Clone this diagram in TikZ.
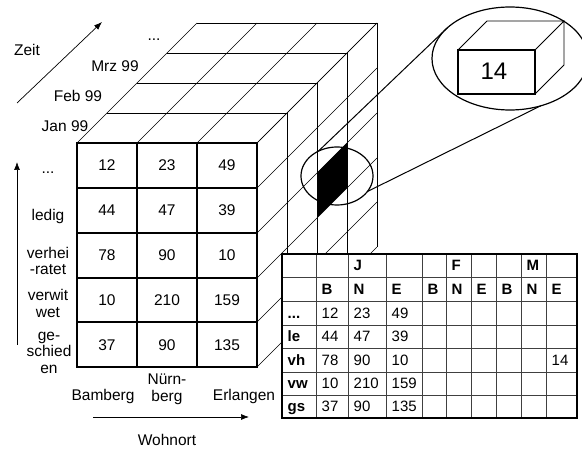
\documentclass[tikz,border=0pt]{standalone}
\usepackage{fontspec}
\setmainfont{Liberation Sans}
\usetikzlibrary{arrows.meta,shapes.geometric}
\newcommand\mydots{...}
\begin{document}
\begin{tikzpicture}[x=1pt,y=-1pt,
  lbl/.style={font=\fontsize{15.5}{16.5}\selectfont, inner sep=0pt, align=center},
  num/.style={font=\fontsize{15.5}{16}\selectfont, inner sep=0pt},
  tcell/.style={font=\fontsize{15}{16}\selectfont, inner sep=0pt, anchor=base west},
  thd/.style={tcell, font=\fontsize{15}{16}\selectfont\bfseries},
  frontln/.style={line width=1.2pt},
  slice/.style={line width=0.9pt},
  depthln/.style={line width=0.6pt},
  axis/.style={line width=0.7pt, -{Latex[length=8pt,width=6pt]}},
  lens/.style={ellipse, draw, line width=1.2pt, inner sep=0pt, outer sep=0pt},
  grid/.style={line width=0.6pt, draw=black!75},
  ]
\useasboundingbox (0,0) rectangle (582,449);

% ---- cube: top face
\foreach \k in {1,2,3,4}
  \draw[slice] (77+30*\k,143-30*\k) -- (257+30*\k,143-30*\k);
\foreach \x in {77,137,197,257}
  \draw[depthln] (\x,143) -- (\x+120,23);
% ---- cube: right face
\foreach \k in {1,2,3,4}
  \draw[slice] (257+30*\k,143-30*\k) -- (257+30*\k,367-30*\k);
\foreach \y in {143,188,233,278,322,367}
  \draw[depthln] (257,\y) -- (377,\y-120);
% highlighted cell
\fill (317,173) -- (347,143) -- (347,188) -- (317,218) -- cycle;
% ---- cube: front face
\draw[frontln] (77,143) rectangle (257,367);
\foreach \x in {137,197} \draw[frontln] (\x,143) -- (\x,367);
\foreach \y in {188,233,278,322} \draw[frontln] (77,\y) -- (257,\y);
\foreach \r/\a/\b/\c in {0/12/23/49,1/44/47/39,2/78/90/10,3/10/210/159,4/37/90/135}{
  \node[num] (fa\r) at (107,165.5+44.8*\r) {\a};
  \node[num] (fb\r) at (167,165.5+44.8*\r) {\b};
  \node[num] (fc\r) at (227,165.5+44.8*\r) {\c};
}

% ---- time axis
\node[lbl] (zeit) at (27,50) {Zeit};
\coordinate (t0) at (17,103);
\coordinate (t1) at (102,22);
\draw[axis] (t0) -- (t1);
\node[lbl, anchor=base] (tdots) at (154,41) {\mydots};
\node[lbl, anchor=base] (mrz) at (115,72) {Mrz 99};
\node[lbl, anchor=base] (feb) at (78,102) {Feb 99};
\node[lbl, anchor=base] (jan) at (65,132) {Jan 99};

% ---- family status axis
\coordinate (s0) at (17,345);
\coordinate (s1) at (17,162);
\draw[axis] (s0) -- (s1);
\node[lbl] (sdots) at (48,173) {\mydots};
\node[lbl] (ledig) at (48,216) {ledig};
\node[lbl] (verh) at (48,261) {verhei\\-ratet};
\node[lbl] (verw) at (48,303.5) {verwit\\wet};
\node[lbl] (gesch) at (49,352.5) {ge-\\schied\\en};

% ---- place axis
\node[lbl] (bamb) at (103,396) {Bamberg};
\node[lbl] (nuer) at (167,389.5) {Nürn-\\berg};
\node[lbl] (erl) at (244,396) {Erlangen};
\coordinate (w0) at (93,417);
\coordinate (w1) at (249,417);
\draw[axis] (w0) -- (w1);
\node[lbl] (wohn) at (167,440) {Wohnort};

% ---- magnifier
\node[lens, minimum width=72pt, minimum height=58pt] (sm) at (337,176) {};
\node[lens, minimum width=156pt, minimum height=103pt] (bg) at (510,58.5) {};
\draw[line width=1pt] (sm.127) -- (bg.154);
\draw[line width=1pt] (sm.-27) -- (bg.-57);
\draw[line width=0.8pt] (458,50) -- (487,21) -- (564,21) -- (535,50)
  (564,21) -- (564,65) -- (535,94);
\draw[line width=1.1pt] (458,50) rectangle (535,94);
\node[font=\fontsize{24}{26}\selectfont, inner sep=0pt] (fourteen) at (494,71) {14};

% ---- table
\fill[white] (282,254) rectangle (577,418);
\foreach \x in {316,348,386,422,446,471,496,521,546}
  \draw[grid] (\x,254) -- (\x,418);
\foreach \y in {277,301,325,348,372,395}
  \draw[grid] (282,\y) -- (577,\y);
\draw[line width=1.3pt] (282,254) rectangle (577,418);
% header rows
\node[thd] (hJ) at (353.5,271) {J};
\node[thd] (hF) at (451.5,271) {F};
\node[thd] (hM) at (526.5,271) {M};
\foreach \x/\t [count=\i] in {316/B,348/N,386/E,422/B,446/N,471/E,496/B,521/N,546/E}
  \node[thd] (h\i) at (\x+5.5,294.5) {\t};
% data rows
\foreach \y/\h/\a/\b/\c [count=\i] in {318.5/\mydots/12/23/49,342/le/44/47/39,365.5/vh/78/90/10,389/vw/10/210/159,412/gs/37/90/135}{
  \node[thd] (rh\i) at (287.5,\y) {\h};
  \node[tcell] (ra\i) at (321.5,\y) {\a};
  \node[tcell] (rb\i) at (353.5,\y) {\b};
  \node[tcell] (rc\i) at (391.5,\y) {\c};
}
\node[tcell] (r14) at (551.5,365.5) {14};
\end{tikzpicture}
\end{document}
